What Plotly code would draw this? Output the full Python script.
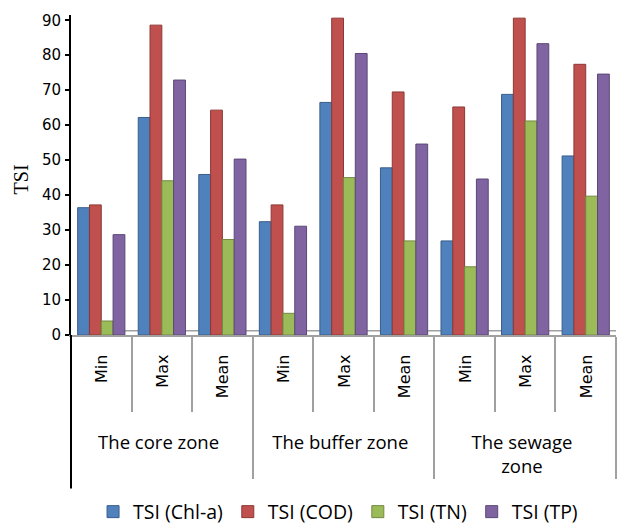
import plotly.graph_objects as go

zones = ["The core zone", "The buffer zone", "The sewage<br>zone"]
stats = ["Min", "Max", "Mean"]
series_names = ["TSI (Chl-a)", "TSI (COD)", "TSI (TN)", "TSI (TP)"]

# values in order: core Min, Max, Mean, buffer Min, Max, Mean, sewage Min, Max, Mean
chla = [36.4, 62.2, 45.9, 32.4, 66.5, 47.8, 26.9, 68.8, 51.2]
cod = [37.2, 88.6, 64.3, 37.2, 90.6, 69.5, 65.2, 90.6, 77.4]
tn = [4.0, 44.1, 27.3, 6.2, 45.0, 26.9, 19.5, 61.2, 39.7]
tp = [28.7, 72.9, 50.3, 31.1, 80.5, 54.6, 44.6, 83.3, 74.6]

colors = ["#4F81BD", "#C0504D", "#9BBB59", "#8064A2"]
edges = ["#385D8A", "#8C3836", "#71893F", "#5C4776"]

NB = "\u00a0"
outer = [z for z in zones for _ in stats]
inner = ["<span style='font-family:DejaVu Sans;font-size:16px'>" + NB * 3 + s + NB * 2 + "</span>"
         for _ in zones for s in stats]

fig = go.Figure()
for name, vals, c, e in zip(series_names, [chla, cod, tn, tp], colors, edges):
    fig.add_trace(go.Bar(
        x=[outer, inner], y=vals, name=name,
        marker=dict(color=c, line=dict(color=e, width=1)),
    ))

fig.update_layout(
    width=617, height=517,
    margin=dict(l=63, r=9, t=7, b=190, autoexpand=False),
    paper_bgcolor="white", plot_bgcolor="white",
    barmode="group", bargap=0.22, bargroupgap=0,
    font=dict(family="Open Sans", size=18.5, color="black"),
    legend=dict(orientation="h", x=0.49, xanchor="center", y=-0.553, yanchor="middle",
                font=dict(family="Open Sans", size=19.5), traceorder="normal"),
    yaxis=dict(
        range=[0, 91.5], tickvals=list(range(0, 100, 10)),
        showgrid=False, zeroline=False, automargin=False,
        showline=True, linecolor="black", linewidth=2,
        ticks="outside", ticklen=4, tickcolor="black", tickwidth=2,
        ticklabelstandoff=1,
        tickfont=dict(family="DejaVu Sans", size=15),
    ),
    xaxis=dict(
        type="multicategory", automargin=False,
        showline=True, linecolor="#A0A0A0", linewidth=2,
        ticks="outside", tickson="boundaries", ticklen=75, tickcolor="#A0A0A0", tickwidth=1.5,
        showdividers=True, dividercolor="#A0A0A0", dividerwidth=1.5,
        tickangle=-90,
        tickfont=dict(family="Open Sans", size=18.5),
        showgrid=False,
    ),
)

fig.add_annotation(text="TSI", xref="paper", yref="paper", x=-0.091, y=0.4875,
                   xanchor="center", yanchor="middle",
                   showarrow=False, textangle=-90,
                   font=dict(family="Liberation Serif", size=20, color="black"))

# extend the y axis line below the plot area through the category labels
fig.add_shape(type="line", xref="paper", yref="paper", x0=0, x1=0, y0=0, y1=-0.48,
              line=dict(color="black", width=2))
# 3D floor back edge
fig.add_shape(type="line", xref="paper", yref="y", x0=0.012, x1=1.0, y0=1.2, y1=1.2,
              line=dict(color="#A0A0A0", width=1.5), layer="below")

fig.write_html("out.html")
